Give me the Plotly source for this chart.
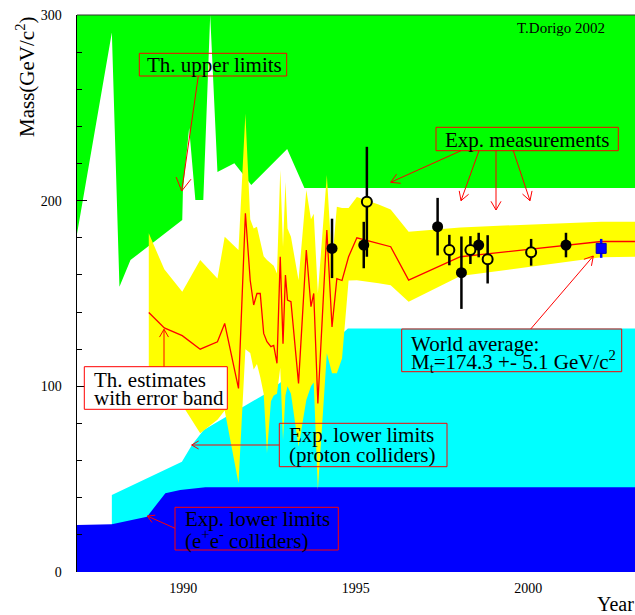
import math
import plotly.graph_objects as go

# ---------------- axis ranges ----------------
X_RANGE = [1986.92, 2003.09]
Y_RANGE = [0, 300]
x_tick_vals = [1990, 1995, 2000]
y_tick_vals = [0, 100, 200, 300]

# ---------------- theoretical upper limits (green) ----------------
upper_limit_year = [1986.92, 1987.93, 1988.15, 1988.47, 1989.97, 1989.99, 1990.17, 1990.35,
                    1990.58, 1990.78, 1990.99, 1991.48, 1991.68, 1991.97, 1993.01, 1993.51, 2003.09]
upper_limit_mass = [182.0, 290.6, 153.6, 168.0, 189.6, 205.7, 239.1, 200.3,
                    200.3, 300.0, 215.4, 220.2, 215.4, 208.4, 227.8, 206.8, 206.8]

# ---------------- exp. lower limits, proton colliders (cyan) ----------------
pp_year = [1987.93, 1989.96, 1990.25, 1990.59, 1991.17, 1991.94, 1992.40, 1994.27, 1994.77, 2003.09]
pp_mass = [41.5, 59.4, 68.4, 76.5, 82.8, 91.0, 96.2, 123.0, 131.2, 131.2]

# ---------------- exp. lower limits, e+e- colliders (blue) ----------------
ee_year = [1986.92, 1987.93, 1988.95, 1989.48, 1989.91, 1990.64, 2003.09]
ee_mass = [25.3, 25.7, 29.8, 42.4, 44.2, 45.6, 45.6]

# ---------------- theoretical estimates with error band ----------------
th_year = [1989.00, 1989.45, 1989.97, 1990.49, 1990.99, 1991.20, 1991.60, 1991.80, 1991.94,
           1992.04, 1992.135, 1992.23, 1992.33, 1992.425, 1992.54, 1992.62, 1992.715, 1992.81,
           1992.89, 1992.96, 1993.02, 1993.12, 1993.34, 1993.565, 1993.70, 1993.78, 1993.90,
           1994.16, 1994.31, 1994.45, 1994.60, 1994.79, 1995.03, 1995.66, 1996.01, 1996.53,
           1998.03, 2002.11, 2003.09]
th_mass = [139.8, 131.5, 127.3, 120.0, 124.0, 133.9, 98.9, 193.2, 157.0,
           143.8, 150.0, 150.0, 128.5, 124.0, 121.4, 122.0, 112.4, 169.8,
           123.0, 160.0, 146.5, 145.6, 101.6, 173.4, 142.9, 150.0, 90.8,
           184.2, 132.0, 158.0, 157.0, 169.8, 180.0, 177.0, 175.2, 157.2,
           169.8, 178.0, 178.0]
th_high = [182.4, 163.0, 151.0, 168.0, 158.1, 180.6, 173.4, 247.0, 190.0,
           185.0, 186.0, 178.0, 170.0, 168.0, 166.0, 165.0, 160.8, 216.5,
           175.0, 210.0, 185.0, 180.6, 157.2, 205.7, 190.0, 193.0, 150.0,
           213.8, 166.2, 196.7, 196.0, 196.0, 202.0, 198.0, 195.3, 183.3,
           185.6, 188.7, 188.7]
th_low = [89.0, 90.0, 90.0, 74.7, 82.0, 87.0, 47.8, 120.0, 118.0,
          109.0, 112.0, 105.0, 96.0, 64.0, 92.0, 95.0, 96.0, 110.0,
          71.0, 95.0, 100.0, 96.0, 67.5, 92.6, 100.0, 102.0, 44.2,
          117.8, 107.0, 107.0, 115.0, 157.0, 157.2, 155.5, 154.5, 145.6,
          159.4, 169.5, 169.8]

# ---------------- measurements ----------------
cdf_year = [1994.31, 1995.23, 1997.37, 1998.06, 1998.56, 2001.09]
cdf_mass = [174.3, 176.1, 186.0, 161.2, 176.1, 176.1]
cdf_err = [16.0, 12.5, 15.5, 19.5, 6.6, 6.6]

d0_year = [1995.32, 1997.71, 1998.32, 1998.82, 2000.08]
d0_mass = [199.4, 173.4, 173.4, 168.4, 172.2]
d0_err = [29.6, 8.2, 7.5, 13.0, 7.2]

wa_year = [2002.11]
wa_mass = [174.3]
wa_err = [5.1]

# ---------------- geometry helpers (layout only) ----------------
W, H = 635, 615
M_L, M_R, M_T, M_B = 77, 0, 15, 43
PLOT_W = W - M_L - M_R
PLOT_H = H - M_T - M_B
SERIF = "Liberation Serif, Times New Roman, serif"


def to_data(px, py):
    x = X_RANGE[0] + (px - M_L) / PLOT_W * (X_RANGE[1] - X_RANGE[0])
    y = Y_RANGE[0] + (M_T + PLOT_H - py) / PLOT_H * (Y_RANGE[1] - Y_RANGE[0])
    return x, y


def line_shape(p0, p1, color="red", width=1):
    x0, y0 = to_data(*p0)
    x1, y1 = to_data(*p1)
    return dict(type="line", xref="x", yref="y", x0=x0, y0=y0, x1=x1, y1=y1,
                line=dict(color=color, width=width), layer="above")


def arrow_shapes(tail, tip, head=9, ang=30):
    out = [line_shape(tail, tip)]
    dx, dy = tail[0] - tip[0], tail[1] - tip[1]
    L = math.hypot(dx, dy)
    ux, uy = dx / L, dy / L
    for a in (ang, -ang):
        r = math.radians(a)
        rx = ux * math.cos(r) - uy * math.sin(r)
        ry = ux * math.sin(r) + uy * math.cos(r)
        out.append(line_shape(tip, (tip[0] + rx * head, tip[1] + ry * head)))
    return out


def box_shape(l, t, r, b, fill="rgba(0,0,0,0)"):
    x0, y0 = to_data(l, b)
    x1, y1 = to_data(r, t)
    return dict(type="rect", xref="x", yref="y", x0=x0, y0=y0, x1=x1, y1=y1,
                line=dict(color="red", width=1), fillcolor=fill, layer="above")


def text_ann(text, px, py, anchor="left", size=21):
    x, y = to_data(px, py)
    return dict(text=text, x=x, y=y, xref="x", yref="y", xanchor=anchor, yanchor="middle",
                showarrow=False, font=dict(family=SERIF, size=size, color="black"))


fig = go.Figure()

# green: upper limits -> fill up to top of axis
fig.add_trace(go.Scatter(
    x=upper_limit_year + [upper_limit_year[-1], upper_limit_year[0]],
    y=upper_limit_mass + [Y_RANGE[1], Y_RANGE[1]],
    mode="lines", fill="toself", fillcolor="#00ff00",
    line=dict(width=0, color="#00ff00"), hoverinfo="skip"))

# cyan: proton collider lower limits
fig.add_trace(go.Scatter(x=pp_year, y=pp_mass, mode="lines", fill="tozeroy",
                         fillcolor="#00ffff", line=dict(width=0, color="#00ffff"),
                         hoverinfo="skip"))

# blue: e+e- lower limits
fig.add_trace(go.Scatter(x=ee_year, y=ee_mass, mode="lines", fill="tozeroy",
                         fillcolor="#0000ff", line=dict(width=0, color="#0000ff"),
                         hoverinfo="skip"))

# yellow: theory error band
fig.add_trace(go.Scatter(x=th_year + th_year[::-1], y=th_high + th_low[::-1],
                         mode="lines", fill="toself", fillcolor="#ffff00",
                         line=dict(width=0, color="#ffff00"), hoverinfo="skip"))

# red: theory central value
fig.add_trace(go.Scatter(x=th_year, y=th_mass, mode="lines",
                         line=dict(color="red", width=1.3)))

# CDF-like filled points
fig.add_trace(go.Scatter(x=cdf_year, y=cdf_mass, mode="markers",
                         marker=dict(symbol="circle", size=11, color="black"),
                         error_y=dict(type="data", array=cdf_err, color="black",
                                      thickness=2.5, width=0)))

# D0-like open points
fig.add_trace(go.Scatter(x=d0_year, y=d0_mass, mode="markers",
                         marker=dict(symbol="circle", size=10, color="#ffff00",
                                     line=dict(color="black", width=2)),
                         error_y=dict(type="data", array=d0_err, color="black",
                                      thickness=2.5, width=0)))

# world average
fig.add_trace(go.Scatter(x=wa_year, y=wa_mass, mode="markers",
                         marker=dict(symbol="square", size=10, color="#0000ff",
                                     line=dict(color="#0000aa", width=1)),
                         error_y=dict(type="data", array=wa_err, color="#0000ff",
                                      thickness=2.5, width=0)))

shapes = []
# frame top line
shapes.append(dict(type="line", xref="paper", yref="paper", x0=0, x1=1, y0=1, y1=1,
                   line=dict(color="#333333", width=1), layer="above"))
# boxes
shapes.append(box_shape(139.3, 53.3, 286.7, 76))
shapes.append(box_shape(436, 127.3, 618.3, 150.7))
shapes.append(box_shape(401.7, 329, 621.7, 371.7))
shapes.append(box_shape(84.3, 366.7, 227.3, 409.3, fill="white"))
shapes.append(box_shape(279.3, 423.3, 447, 466.7))
shapes.append(box_shape(175, 507.3, 338.3, 550))
# arrows
shapes += arrow_shapes((198.3, 76), (181.7, 191), head=15)
shapes += arrow_shapes((461, 150.7), (390.7, 182.3), head=10)
shapes += arrow_shapes((479, 150.7), (461, 200.7), head=10)
shapes += arrow_shapes((496, 150.7), (496, 210), head=10)
shapes += arrow_shapes((513.3, 150.7), (530, 200.7), head=10)
shapes += arrow_shapes((530.7, 329), (593.3, 256), head=10)
shapes += arrow_shapes((164, 366.7), (164, 329.3), head=9)
shapes += arrow_shapes((279.3, 445), (191.7, 445), head=8)
shapes += arrow_shapes((175, 528.3), (147.3, 516), head=8)

annotations = [
    text_ann("Th. upper limits", 214, 65, anchor="center"),
    text_ann("Exp. measurements", 527, 139.5, anchor="center"),
    text_ann("World average:", 409, 343.5),
    text_ann("M<sub>t</sub>=174.3 +- 5.1 GeV/c<sup>2</sup>", 409, 361.5),
    text_ann("Th. estimates", 92, 380),
    text_ann("with error band", 92, 397.5),
    text_ann("Exp. lower limits", 286.5, 435),
    text_ann("(proton colliders)", 286.5, 455),
    text_ann("Exp. lower limits", 182.5, 518.5),
    text_ann("(e<sup>+</sup>e<sup>-</sup> colliders)", 182.5, 539),
    text_ann("T.Dorigo 2002", 560.5, 28, anchor="center", size=15),
    # axis titles
    dict(text="Mass(GeV/c<sup>2</sup>)", xref="paper", yref="paper",
         x=(25 - M_L) / PLOT_W, y=1.0, xanchor="center", yanchor="top", textangle=-90,
         showarrow=False, font=dict(family=SERIF, size=21, color="black")),
    dict(text="Year", xref="paper", yref="paper",
         x=(595 - M_L) / PLOT_W, y=-(604 - (M_T + PLOT_H)) / PLOT_H,
         xanchor="left", yanchor="middle",
         showarrow=False, font=dict(family=SERIF, size=20, color="black")),
]

fig.update_layout(
    width=W, height=H,
    margin=dict(l=M_L, r=M_R, t=M_T, b=M_B, pad=0),
    paper_bgcolor="white", plot_bgcolor="white",
    showlegend=False,
    hovermode=False,
    shapes=shapes,
    annotations=annotations,
    xaxis=dict(range=X_RANGE, tickvals=x_tick_vals, ticks="", showline=False,
               showgrid=False, zeroline=False, ticklabelstandoff=6,
               tickfont=dict(family=SERIF, size=14, color="black")),
    yaxis=dict(range=Y_RANGE, tickvals=y_tick_vals, ticks="inside", ticklen=10,
               tickwidth=1, tickcolor="black",
               minor=dict(dtick=20, ticks="inside", ticklen=5, tickwidth=1, tickcolor="black"),
               showline=True, linewidth=1.5, linecolor="black",
               showgrid=False, zeroline=False, ticklabelstandoff=11,
               tickfont=dict(family=SERIF, size=14, color="black")),
)

fig.write_html("out.html",
               config={"displayModeBar": False, "staticPlot": True},
               post_script="document.body.style.margin='0';document.body.style.padding='0';"
                           "document.body.style.overflow='hidden';")
